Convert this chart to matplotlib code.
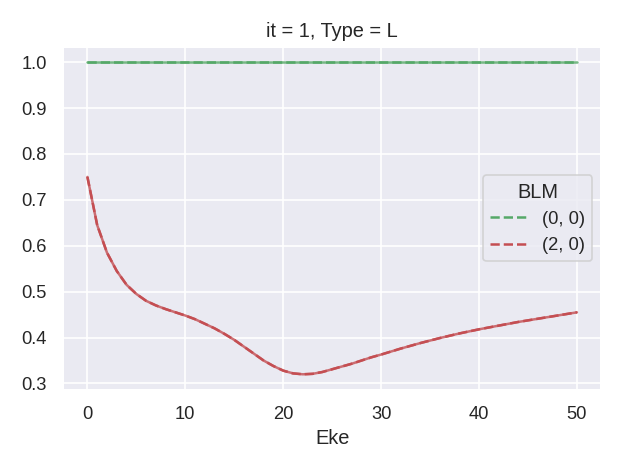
import matplotlib
matplotlib.use("Agg")
import matplotlib.pyplot as plt
import seaborn as sns

sns.set_theme(style="darkgrid")
plt.rcParams['font.family'] = ['Liberation Sans', 'DejaVu Sans']

eke = [0,1,2,3,4,5,6,7,8,9,10,11,12,13,14,15,16,17,18,19,20,21,22,23,24,25,26,27,28,29,30,32,34,36,38,40,42,44,46,48,50]
blm00 = [1.0]*len(eke)
blm20 = [0.75,0.645,0.585,0.545,0.515,0.495,0.48,0.47,0.462,0.455,0.448,0.44,0.43,0.42,0.408,0.395,0.38,0.365,0.35,0.338,0.328,0.322,0.32,0.321,0.325,0.331,0.337,0.343,0.35,0.357,0.363,0.376,0.388,0.399,0.409,0.418,0.426,0.434,0.441,0.448,0.455]
labels = ["(0, 0)", "(2, 0)"]
colors = ["#55a868", "#c44e52"]

fig, ax = plt.subplots(figsize=(623/120, 470/120), dpi=120)
for y, lab, c in zip([blm00, blm20], labels, colors):
    ax.plot(eke, y, color=c, lw=1.5, alpha=0.8)
    ax.plot(eke, y, color=c, lw=1.5, ls="--", label=lab)
ax.set_title("it = 1, Type = L", fontsize=12)
ax.set_xlabel("Eke", fontsize=12)
ax.tick_params(labelsize=11)
ax.set_yticks([0.3,0.4,0.5,0.6,0.7,0.8,0.9,1.0])
ax.legend(title="BLM", loc="center right", fontsize=11, title_fontsize=12)
fig.tight_layout()
fig.savefig("out.png", dpi=120)
